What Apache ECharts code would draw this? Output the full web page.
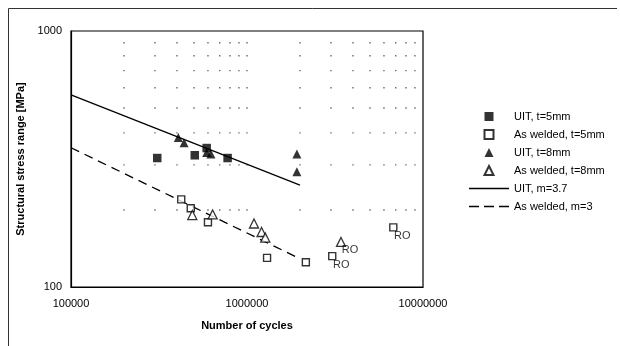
<!DOCTYPE html>
<html><head><meta charset="utf-8">
<script src="https://cdn.jsdelivr.net/npm/echarts@6/dist/echarts.min.js"></script>
<style>html,body{margin:0;padding:0;background:#fff}#c{width:620px;height:346px}</style>
</head><body><div id="c"></div>
<script>
// ---- data ----
const seriesNames = ['UIT, t=5mm', 'As welded, t=5mm', 'UIT, t=8mm', 'As welded, t=8mm', 'UIT, m=3.7', 'As welded, m=3'];
const uit5 = [[3.09e5, 319], [5.05e5, 327], [5.9e5, 349], [7.76e5, 319]];
const asWelded5 = [[4.23e5, 220], [4.79e5, 203], [6.0e5, 179], [1.30e6, 130], [2.16e6, 125], [3.05e6, 132], [6.78e6, 171]];
const asWelded5Runout = [false, false, false, false, false, true, true];
const uit8 = [[4.07e5, 384], [4.39e5, 366], [5.9e5, 335], [6.24e5, 331], [1.92e6, 331], [1.92e6, 282]];
const asWelded8 = [[4.89e5, 191], [6.38e5, 192], [1.096e6, 177], [1.21e6, 164], [1.27e6, 156], [3.42e6, 150]];
const asWelded8Runout = [false, false, false, false, false, true];
const uitCurve = [[1e5, 563], [2e6, 250]];
const asWeldedCurve = [[1e5, 350], [2e6, 129]];
const xRange = [1e5, 1e7];
const yRange = [100, 1000];
const gridXTicks = [2e5, 3e5, 4e5, 5e5, 6e5, 7e5, 8e5, 9e5, 1e6, 2e6, 3e6, 4e6, 5e6, 6e6, 7e6, 8e6, 9e6];
const gridYTicks = [200, 300, 400, 500, 600, 700, 800, 900];
const runoutText = 'RO';
const xTitle = 'Number of cycles';
const yTitle = 'Structural stress range [MPa]';

// ---- chart ----
const FONT = 'Liberation Sans, Arial, sans-serif';
const gridDots = [];
gridXTicks.forEach(x => gridYTicks.forEach(y => gridDots.push([x, y])));

function withRunout(values, flags) {
  return values.map((v, i) => flags[i] ? {
    value: v,
    label: { show: true, formatter: runoutText, position: 'inside', offset: [9, 8.5],
             color: '#000', fontSize: 11, fontFamily: FONT }
  } : v);
}

const ICON_SQUARE = 'path://M0,0H8V8H0Z';
const ICON_TRIANGLE = 'path://M4,0L8,8H0Z';
const ICON_SOLID = 'path://M0,0H40V1.3H0Z';
const ICON_DASHED = 'path://M0,0H10V1.3H0ZM15,0H25V1.3H15ZM30,0H40V1.3H30Z';
const legendIcons = [ICON_SQUARE, ICON_SQUARE, ICON_TRIANGLE, ICON_TRIANGLE, ICON_SOLID, ICON_DASHED];

const chart = echarts.init(document.getElementById('c'), null, { renderer: 'canvas' });
chart.setOption({
  animation: false,
  backgroundColor: '#fff',
  textStyle: { fontFamily: FONT },
  graphic: [{
    type: 'polyline', silent: true,
    shape: { points: [[8.5, 346], [8.5, 8.5], [617, 8.5]] },
    style: { stroke: '#333', lineWidth: 1, fill: null }
  }],
  grid: { left: 71, top: 31, width: 352, height: 256, show: true, borderColor: '#000', borderWidth: 1.2, backgroundColor: 'transparent' },
  legend: {
    orient: 'vertical', left: 464, top: 106,
    itemWidth: 40, itemHeight: 9, itemGap: 7,
    symbolKeepAspect: true,
    data: seriesNames.map((n, i) => ({ name: n, icon: legendIcons[i] })),
    textStyle: { fontSize: 11, color: '#000', fontFamily: FONT }
  },
  xAxis: {
    type: 'log', logBase: 10, min: xRange[0], max: xRange[1],
    name: xTitle, nameLocation: 'middle', nameGap: 33,
    nameTextStyle: { fontSize: 11, fontWeight: 'bold', color: '#000', fontFamily: FONT },
    axisLine: { show: true, lineStyle: { color: '#000', width: 1.2 } },
    axisTick: { show: false },
    splitLine: { show: false },
    axisLabel: { fontSize: 11, color: '#000', margin: 11, fontFamily: FONT, formatter: v => String(Math.round(v)) }
  },
  yAxis: {
    type: 'log', logBase: 10, min: yRange[0], max: yRange[1],
    name: yTitle, nameLocation: 'middle', nameGap: 35, nameRotate: 90,
    nameTextStyle: { fontSize: 11, fontWeight: 'bold', color: '#000', fontFamily: FONT },
    axisLine: { show: true, lineStyle: { color: '#000', width: 1.2 } },
    axisTick: { show: false },
    splitLine: { show: false },
    axisLabel: { fontSize: 11, color: '#000', margin: 9, fontFamily: FONT, formatter: v => String(Math.round(v)) }
  },
  series: [
    { name: 'grid-dots', type: 'scatter', silent: true, data: gridDots, symbol: 'rect', symbolSize: 1.4,
      itemStyle: { color: '#444' }, z: 1 },
    { name: seriesNames[0], type: 'scatter', data: uit5, symbol: 'rect', symbolSize: 8.5,
      itemStyle: { color: '#000' }, z: 5 },
    { name: seriesNames[1], type: 'scatter', data: withRunout(asWelded5, asWelded5Runout), symbol: 'rect', symbolSize: 7,
      itemStyle: { color: '#fff', borderColor: '#000', borderWidth: 1.4 }, z: 5 },
    { name: seriesNames[2], type: 'scatter', data: uit8, symbol: 'triangle', symbolSize: 9,
      itemStyle: { color: '#000' }, z: 5 },
    { name: seriesNames[3], type: 'scatter', data: withRunout(asWelded8, asWelded8Runout), symbol: 'triangle', symbolSize: 9,
      itemStyle: { color: '#fff', borderColor: '#000', borderWidth: 1.3 }, z: 5 },
    { name: seriesNames[4], type: 'line', data: uitCurve, symbol: 'none',
      lineStyle: { color: '#000', width: 1.3, type: 'solid' }, itemStyle: { color: '#000' }, z: 3 },
    { name: seriesNames[5], type: 'line', data: asWeldedCurve, symbol: 'none',
      lineStyle: { color: '#000', width: 1.3, type: [9, 6] }, itemStyle: { color: '#000' }, z: 3 }
  ]
});
</script>
</body></html>
